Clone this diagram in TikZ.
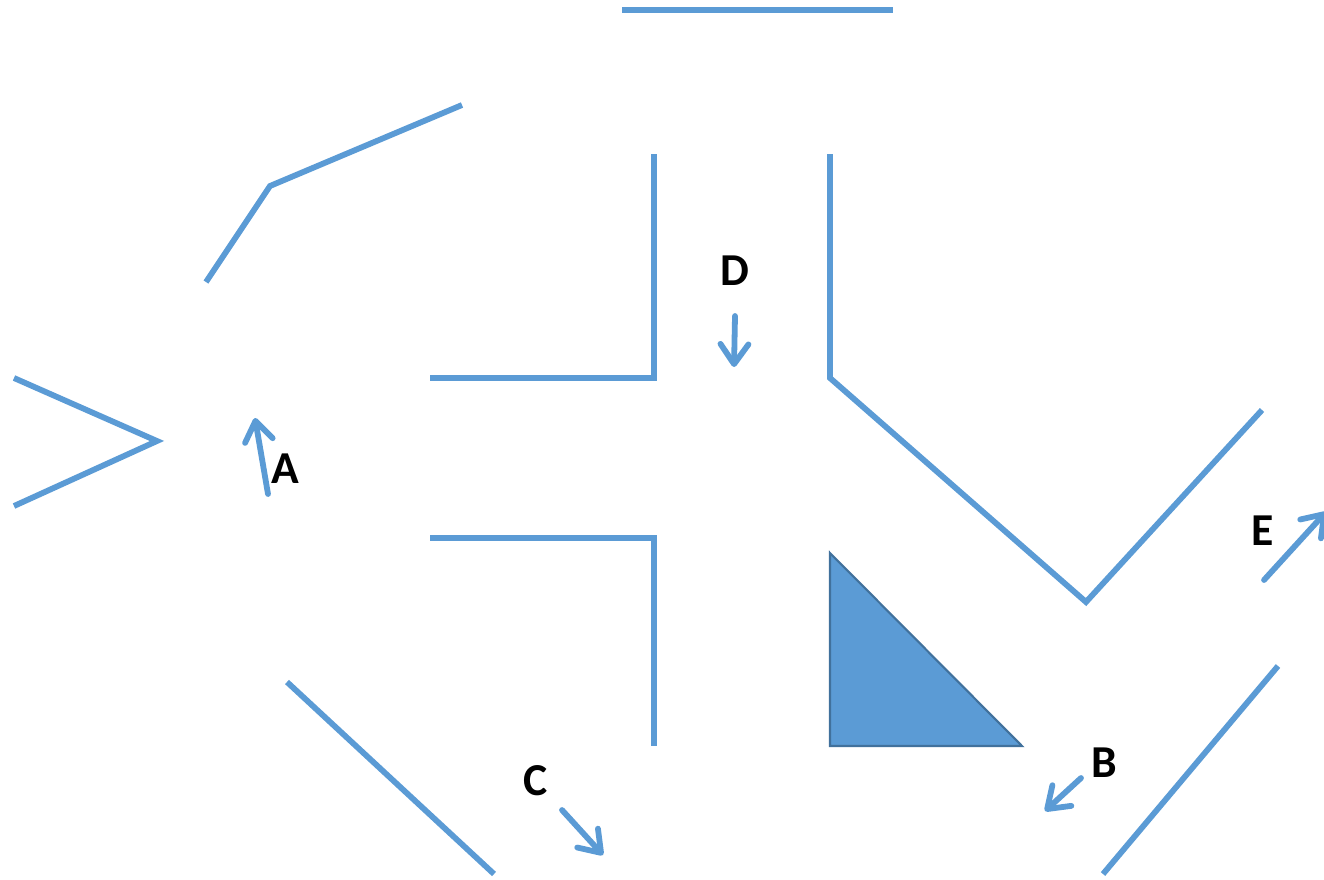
\documentclass[tikz,border=0pt]{standalone}
\usepackage{fontspec}
\setmainfont{Carlito}
\usetikzlibrary{arrows.meta}
\definecolor{wallblue}{HTML}{5B9BD5}
\definecolor{edgeblue}{HTML}{41719C}
\tikzset{
  wall/.style={draw=wallblue, line width=3.3pt},
  move/.style={draw=wallblue, line width=3.3pt, line cap=round,
    -{Straight Barb[length=0.4cm, width=0.56cm, line cap=round, line join=round]}},
  letter/.style={text=black, font=\fontsize{26}{30}\selectfont\bfseries, inner sep=0pt}
}
\begin{document}
\begin{tikzpicture}[x=0.02cm, y=-0.02cm]
\useasboundingbox (0,0) rectangle (1324,879);

% walls
\draw[wall] (622,10) -- (893,10);
\draw[wall] (206,282) -- (270,186) -- (462,105);
\draw[wall] (14,378) -- (157,441) -- (14,506);
\draw[wall] (430,378) -- (654,378) -- (654,154);
\draw[wall] (830,154) -- (830,378) -- (1086,602) -- (1262,410);
\draw[wall] (430,538) -- (654,538) -- (654,746);
\draw[wall] (287,682) -- (494,874);
\draw[wall] (1103,874) -- (1278,666);
\draw[fill=wallblue, draw=edgeblue, line width=1.2pt] (830,553) -- (830,746) -- (1022,746) -- cycle;

% moves
\draw[move] (268,494) -- (255,418);
\draw[move] (735,316) -- (734,367);
\draw[move] (562,810) -- (603,855);
\draw[move] (1081,778) -- (1045,811);
\draw[move] (1264,580) -- (1326,512);

% labels
\node[letter] (lblA) at (285,469) {A};
\node[letter] (lblB) at (1104,763) {B};
\node[letter] (lblC) at (536,781) {C};
\node[letter] (lblD) at (735,271) {D};
\node[letter] (lblE) at (1263,531) {E};
\end{tikzpicture}
\end{document}
